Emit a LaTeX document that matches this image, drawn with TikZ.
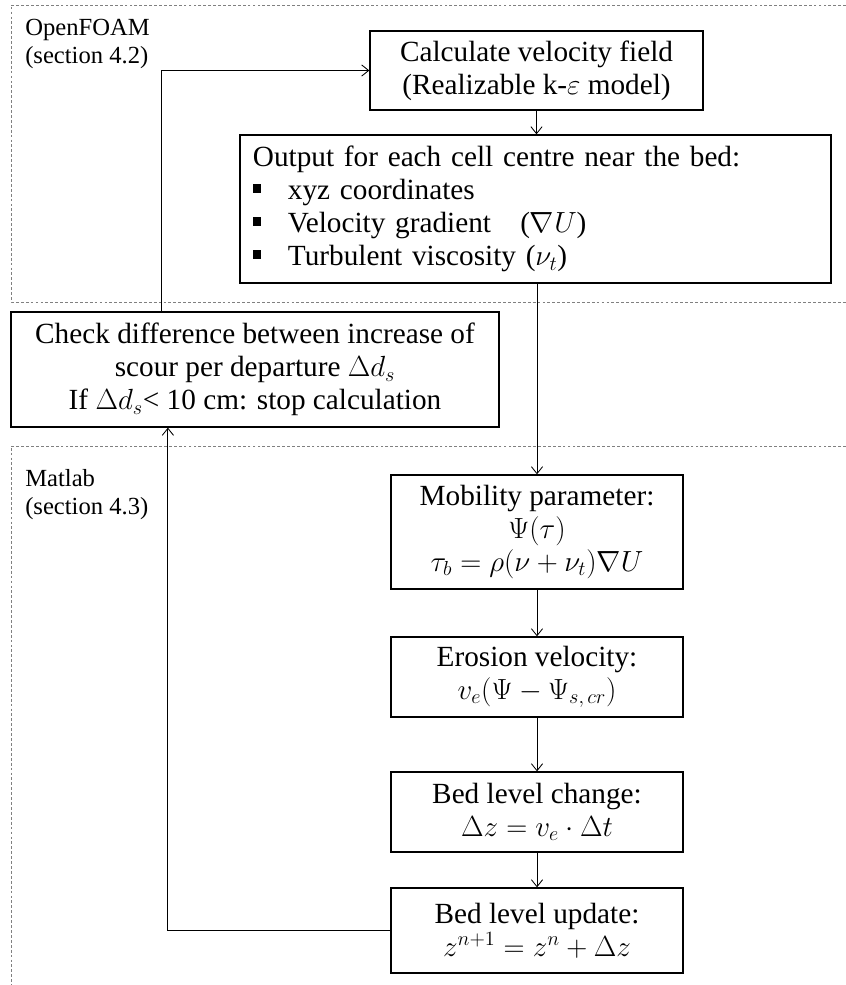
\documentclass[tikz,border=0pt]{standalone}
\usepackage{fontspec}
\setmainfont{Liberation Serif}
\usepackage{tikz}
\usetikzlibrary{positioning, calc, arrows.meta}

\begin{document}
\begin{tikzpicture}[
  x=0.025cm, y=-0.025cm,
  font=\fontsize{20.8}{23.5}\selectfont,
  stepbox/.style={draw, line width=0.9pt, align=center, inner sep=3pt},
  flow/.style={-{Straight Barb[length=5pt,width=8pt]}, line width=0.6pt},
  region/.style={gray, dash pattern=on 2pt off 1.5pt, line width=0.5pt},
  regionlabel/.style={anchor=north west, align=left, inner sep=0pt, font=\fontsize{17.5}{20}\selectfont},
]
\useasboundingbox (0,0) rectangle (846,985);

% Regions
\draw[region] (846,5) -- (11,5) -- (11,302) -- (846,302);
\draw[region] (846,446) -- (11,446) -- (11,985);
\node[regionlabel] (foam) at (25,19) {OpenFOAM\\(section 4.2)};
\node[regionlabel] (matlab) at (25,469) {Matlab\\(section 4.3)};

% Steps
\node[stepbox, minimum width=8.325cm, minimum height=1.975cm] (calc) at (536.5,70.5)
  {Calculate velocity field\\(Realizable k-$\varepsilon$ model)};
\node[stepbox, minimum width=14.775cm, minimum height=3.7cm, text width=14.125cm,
  inner xsep=0.325cm, align=left] (output) at (535.5,209)
  {Output for each cell centre near the bed:\\
   \makebox[0.875cm][l]{\rule[0.22em]{0.26em}{0.3em}}xyz coordinates\\
   \makebox[0.875cm][l]{\rule[0.22em]{0.26em}{0.3em}}Velocity gradient \ \ ($\nabla U$)\\
   \makebox[0.875cm][l]{\rule[0.22em]{0.26em}{0.3em}}Turbulent viscosity ($\nu_t$)};
\node[stepbox, minimum width=12.2cm, minimum height=2.875cm] (check) at (255,369.5)
  {Check difference between increase of\\scour per departure $\Delta d_s$\\If $\Delta d_s$< 10 cm: stop calculation};
\node[stepbox, minimum width=7.3cm, minimum height=2.85cm] (mobility) at (537,532)
  {Mobility parameter:\\$\Psi(\tau)$\\$\tau_b = \rho(\nu + \nu_t)\nabla U$};
\node[stepbox, minimum width=7.3cm, minimum height=2cm] (erosion) at (537,677)
  {Erosion velocity:\\$v_e(\Psi - \Psi_{s,\,cr})$};
\node[stepbox, minimum width=7.3cm, minimum height=2cm] (change) at (537,812)
  {Bed level change:\\$\Delta z = v_e \cdot \Delta t$};
\node[stepbox, minimum width=7.3cm, minimum height=2.125cm] (update) at (537,930.5)
  {Bed level update:\\$z^{n+1} = z^n + \Delta z$};

% Connectors
\draw[flow] (calc.south) -- (calc.south |- output.north);
\draw[flow] (mobility.north |- output.south) -- (mobility.north);
\draw[flow] (mobility) -- (erosion);
\draw[flow] (erosion) -- (change);
\draw[flow] (change) -- (update);
\draw[flow] (update.west) -| ($(check.south west)!0.322!(check.south east)$);
\draw[flow] ($(check.north west)!0.309!(check.north east)$) |- (calc.west);
\end{tikzpicture}
\end{document}
